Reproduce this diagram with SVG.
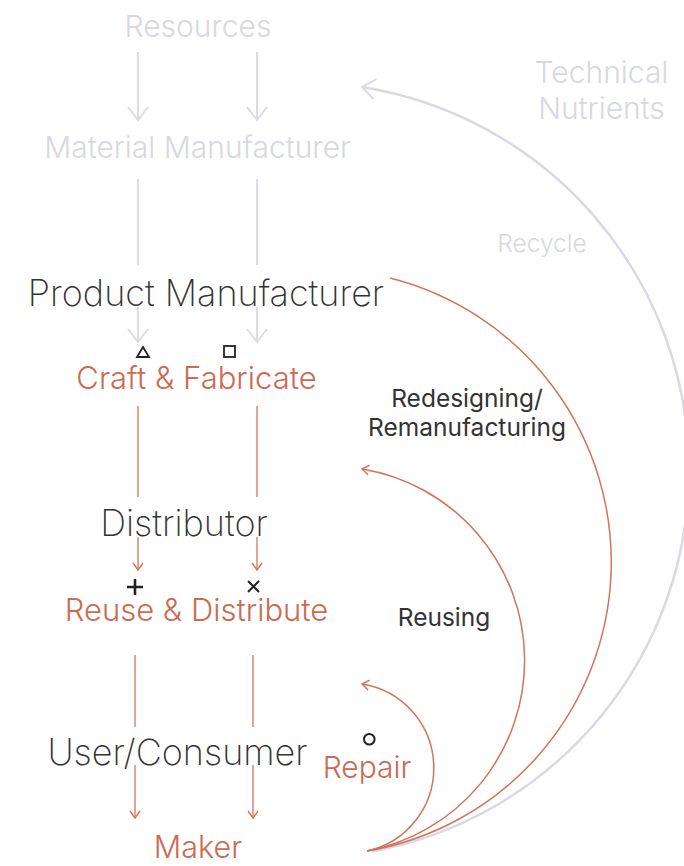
<svg xmlns="http://www.w3.org/2000/svg" width="684" height="866" viewBox="0 0 684 866">
  <defs>
    <style>
      text { font-family: Inter, "Liberation Sans", sans-serif; }
      .gt { fill: #d7d8e1; font-size: 30px; font-weight: 300; }
      .dt { fill: #333333; font-size: 36px; font-weight: 200; }
      .rt { fill: #cb6b52; font-size: 31px; font-weight: 300; }
      .lt { fill: #333333; font-size: 24.5px; font-weight: 400; }
      .gl { fill: none; stroke: #dcdce6; stroke-width: 2; }
      .ga { fill: none; stroke: #d9d9e4; stroke-width: 2.5; }
      .rl { fill: none; stroke: #d6806a; stroke-width: 1.4; }
      .ra { fill: none; stroke: #d2735a; stroke-width: 1.5; }
      .sym { fill: none; stroke: #222222; stroke-width: 1.8; }
    </style>
    <marker id="gArrow" markerUnits="userSpaceOnUse" markerWidth="30" markerHeight="30" refX="0" refY="0" orient="auto" overflow="visible">
      <path d="M-13,-10 L0,0 L-13,10" fill="none" stroke="#dcdce6" stroke-width="2"/>
    </marker>
    <marker id="rArrow" markerUnits="userSpaceOnUse" markerWidth="20" markerHeight="20" refX="0" refY="0" orient="auto" overflow="visible">
      <path d="M-7,-5 L0,0 L-7,5" fill="none" stroke="#d2735a" stroke-width="1.4"/>
    </marker>
  </defs>

  <g id="connectors">
    <path class="gl" d="M138,52 V120" marker-end="url(#gArrow)"/>
    <path class="gl" d="M257,52 V120" marker-end="url(#gArrow)"/>
    <path class="gl" d="M138,179 V265"/>
    <path class="gl" d="M257,179 V265"/>
    <path class="gl" d="M138,307 V342" marker-end="url(#gArrow)"/>
    <path class="gl" d="M257,307 V342" marker-end="url(#gArrow)"/>
    <path class="rl" d="M138,406 V497"/>
    <path class="rl" d="M257,406 V497"/>
    <path class="rl" d="M138,537 V570" marker-end="url(#rArrow)"/>
    <path class="rl" d="M257,537 V570" marker-end="url(#rArrow)"/>
    <path class="rl" d="M135,655 V727"/>
    <path class="rl" d="M253,655 V727"/>
    <path class="rl" d="M135,765 V818" marker-end="url(#rArrow)"/>
    <path class="rl" d="M253,765 V818" marker-end="url(#rArrow)"/>
    <path class="ga" d="M372,851.6 A388,388 0 0 0 362,87" marker-end="url(#gArrow)"/>
    <path class="ra" d="M367,851 A293,293 0 0 0 390,278"/>
    <path class="ra" d="M367,851 A194,194 0 0 0 362,469" marker-end="url(#rArrow)"/>
    <path class="ra" d="M367,851 A85,85 0 0 0 362,684" marker-end="url(#rArrow)"/>
  </g>

  <g id="resources"><text class="gt" x="198" y="37" text-anchor="middle">Resources</text></g>
  <g id="material-manufacturer"><text class="gt" x="197.5" y="158" text-anchor="middle">Material Manufacturer</text></g>
  <g id="technical-nutrients">
    <text class="gt" x="601.5" y="83" text-anchor="middle">Technical</text>
    <text class="gt" x="601.5" y="119" text-anchor="middle">Nutrients</text>
  </g>
  <g id="recycle"><text class="gt" x="542" y="252" text-anchor="middle" style="font-size:24.5px">Recycle</text></g>
  <g id="product-manufacturer"><text class="dt" x="206" y="306" text-anchor="middle">Product Manufacturer</text></g>
  <g id="craft-fabricate">
    <path class="sym" d="M143,347 L137,357 L149,357 Z"/>
    <rect class="sym" x="224" y="346" width="11" height="11"/>
    <text class="rt" x="196.5" y="389" text-anchor="middle">Craft &amp; Fabricate</text>
  </g>
  <g id="redesigning">
    <text class="lt" x="467" y="407" text-anchor="middle">Redesigning/</text>
    <text class="lt" x="467" y="436" text-anchor="middle">Remanufacturing</text>
  </g>
  <g id="distributor"><text class="dt" x="184" y="536" text-anchor="middle">Distributor</text></g>
  <g id="reuse-distribute">
    <path class="sym" d="M127,587 H143 M135,579 V595" style="stroke-width:2.6"/>
    <path class="sym" d="M248,581 L259,592 M259,581 L248,592" style="stroke-width:2"/>
    <text class="rt" x="196.5" y="621" text-anchor="middle">Reuse &amp; Distribute</text>
  </g>
  <g id="reusing"><text class="lt" x="444" y="626" text-anchor="middle">Reusing</text></g>
  <g id="user-consumer"><text class="dt" x="177.5" y="765" text-anchor="middle">User/Consumer</text></g>
  <g id="repair">
    <circle class="sym" cx="369.3" cy="739.3" r="5.3" style="stroke-width:2"/>
    <text class="rt" x="367" y="778" text-anchor="middle" style="font-size:30px">Repair</text>
  </g>
  <g id="maker"><text class="rt" x="198" y="858" text-anchor="middle" style="font-size:30.5px">Maker</text></g>
</svg>
